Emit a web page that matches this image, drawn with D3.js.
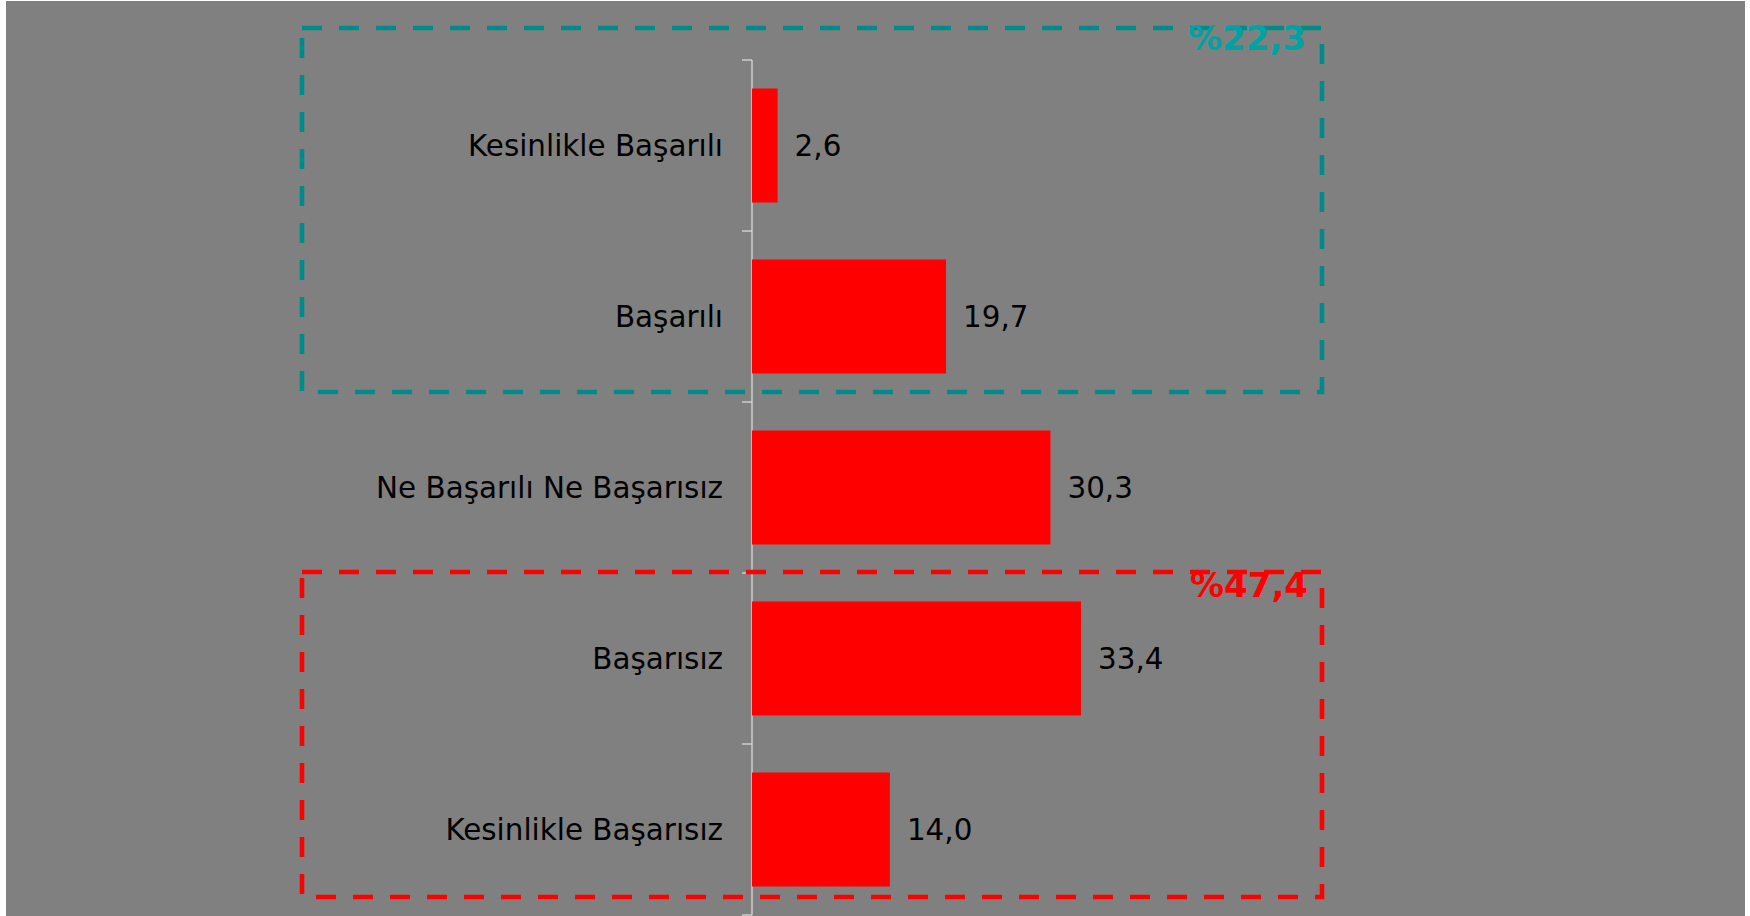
<!DOCTYPE html>
<html>
<head>
<meta charset="utf-8">
<script src="https://cdn.jsdelivr.net/npm/d3@7"></script>
<style>
  html, body { margin: 0; padding: 0; background: #ffffff; }
  svg { display: block; }
</style>
</head>
<body>
<svg id="chart" width="1750" height="916"></svg>
<script>
const categories = ["Kesinlikle Başarılı", "Başarılı", "Ne Başarılı Ne Başarısız", "Başarısız", "Kesinlikle Başarısız"];
const values = [2.6, 19.7, 30.3, 33.4, 14.0];
const groupLabels = ["%22,3", "%47,4"];

const svg = d3.select("#chart");
const fmt = v => v.toFixed(1).replace(".", ",");

svg.append("rect").attr("x", 6).attr("y", 1).attr("width", 1739).attr("height", 915).attr("fill", "#808080");

const x = d3.scaleLinear().domain([0, 60]).range([752, 752 + 591]);
const y = d3.scaleBand().domain(categories).range([60, 915]).paddingInner(1/3).paddingOuter(1/6);

// Axis
const axisG = svg.append("g").attr("transform", "translate(752,0)");
axisG.append("line").attr("x1", 0).attr("x2", 0).attr("y1", 60).attr("y2", 915)
  .attr("stroke", "#e0e0e0").attr("stroke-width", 1.2);
const bounds = categories.map(c => y(c) - y.step() * y.paddingInner() / 2).concat([915]);
bounds[0] = 60;
axisG.selectAll("line.tick").data(bounds).join("line").attr("class", "tick")
  .attr("x1", -10).attr("x2", 0).attr("y1", d => d).attr("y2", d => d)
  .attr("stroke", "#e0e0e0").attr("stroke-width", 1.2);

// Bars
svg.selectAll("rect.bar").data(values).join("rect").attr("class", "bar")
  .attr("x", x(0)).attr("y", (d, i) => y(categories[i]))
  .attr("width", d => x(d) - x(0)).attr("height", y.bandwidth())
  .attr("fill", "#ff0000");

// Value labels
svg.selectAll("text.val").data(values).join("text").attr("class", "val")
  .attr("x", d => x(d) + 17).attr("y", (d, i) => y(categories[i]) + y.bandwidth() / 2 + 10.5)
  .attr("font-family", "DejaVu Sans, Verdana, sans-serif").attr("font-size", 29.4)
  .attr("fill", "#000000").text(d => fmt(d));

// Category labels
svg.selectAll("text.cat").data(categories).join("text").attr("class", "cat")
  .attr("x", 723).attr("y", d => y(d) + y.bandwidth() / 2 + 10.5)
  .attr("text-anchor", "end")
  .attr("font-family", "DejaVu Sans, Verdana, sans-serif").attr("font-size", 29.4)
  .attr("fill", "#000000").text(d => d);

// Group boxes
const boxes = [
  { top: 28, bottom: 392, line: "#008b8b", text: "#00a3a3", label: groupLabels[0], baseline: 49.5, tx: 1306 },
  { top: 572, bottom: 897, line: "#ff0000", text: "#ff0000", label: groupLabels[1], baseline: 597, tx: 1308 }
];
boxes.forEach(b => {
  svg.append("rect").attr("x", 302).attr("y", b.top).attr("width", 1322 - 302).attr("height", b.bottom - b.top)
    .attr("fill", "none").attr("stroke", b.line).attr("stroke-width", 4.6)
    .attr("stroke-dasharray", "20,17");
  svg.append("text").attr("x", b.tx).attr("y", b.baseline).attr("text-anchor", "end")
    .attr("font-family", "DejaVu Sans, Verdana, sans-serif").attr("font-weight", "bold")
    .attr("font-size", 34).attr("fill", b.text).text(b.label);
});
</script>
</body>
</html>
